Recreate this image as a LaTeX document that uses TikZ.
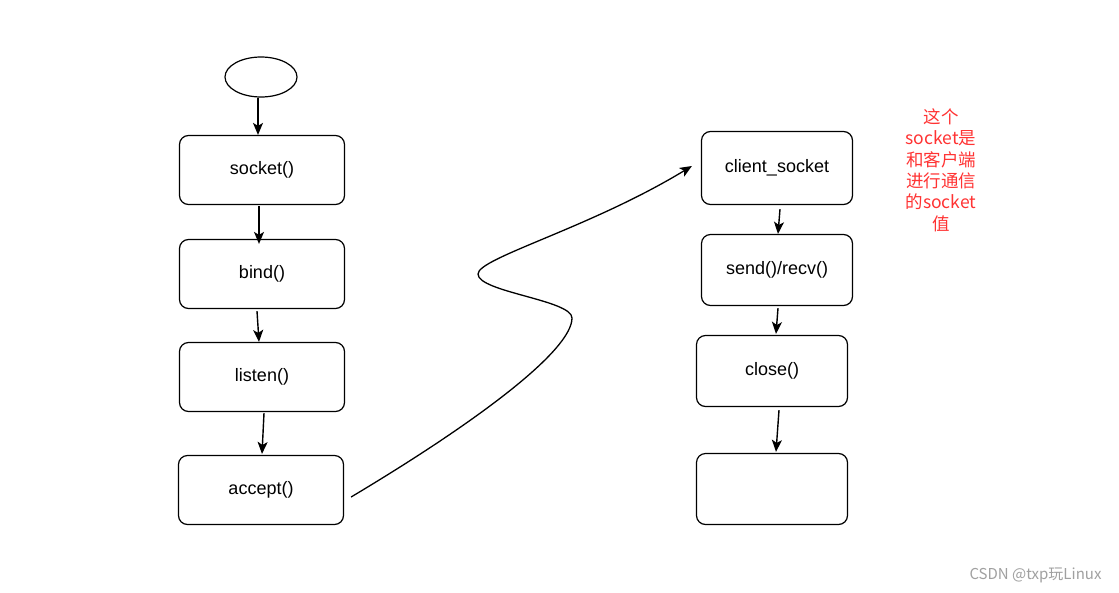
\documentclass[tikz,border=0pt]{standalone}
\usepackage{fontspec}
\setmainfont{Liberation Sans}
\newfontfamily\cjk{Noto Sans CJK SC}
\usetikzlibrary{arrows.meta,shapes.geometric,calc}
\definecolor{redtxt}{RGB}{255,51,51}
\definecolor{wm}{RGB}{160,160,160}
\tikzset{
  box/.style={draw, rounded corners=9pt, line width=1.2pt, minimum width=165pt, minimum height=69pt, inner sep=0pt, font=\fontsize{18}{21}\selectfont},
  rbox/.style={box, minimum width=151pt, minimum height=71pt},
  arr/.style={line width=1.4pt, -{Stealth[length=12pt,width=10pt,inset=3pt]}},
}
\begin{document}
\begin{tikzpicture}[x=1pt,y=-1pt]
\useasboundingbox[fill=white] (0,0) rectangle (1119,592);
\node[draw, ellipse, line width=1.2pt, minimum width=72pt, minimum height=40pt, inner sep=0pt] (ell) at (261,77) {};
\node[box] (sock) at (262,170) {socket()};
\node[box] (bind) at (262,274) {bind()};
\node[box] (lis) at (262,377) {listen()};
\node[box] (acc) at (261,490) {accept()};
\node[rbox, minimum height=73pt] (cs) at (777,168) {client\_socket};
\node[rbox] (sr) at (777,270) {send()/recv()};
\node[rbox] (cl) at (772,371) {close()};
\node[rbox] (emp) at (772,489) {};
\node[text=redtxt, align=center, font=\cjk\fontsize{17.5}{21.4}\selectfont] (note) at (941,170) {这个\\socket是\\和客户端\\进行通信\\的socket\\值};
\node[text=wm, anchor=east, font=\cjk\fontsize{15}{17}\selectfont] (wmk) at (1105,575) {CSDN @txp玩Linux};

\draw[arr] ([xshift=-3pt]ell.south) -- ([xshift=-4pt]sock.north);
\draw[arr] ([xshift=-3pt,yshift=-1pt]sock.south) -- ([xshift=-3pt,yshift=-5pt]bind.north);
\draw[arr] ([xshift=-5pt,yshift=-2pt]bind.south) -- ([xshift=-3pt]lis.north);
\draw[arr] ([xshift=2pt,yshift=-1pt]lis.south) -- ([xshift=1pt,yshift=1pt]acc.north);
\draw[arr] ([xshift=3pt,yshift=-4pt]cs.south) -- ([xshift=1pt]sr.north);
\draw[arr] ([xshift=1pt,yshift=-2pt]sr.south) -- ([xshift=4pt,yshift=1pt]cl.north);
\draw[arr] ([xshift=7pt,yshift=-3pt]cl.south) -- ([xshift=4pt,yshift=1pt]emp.north);

\draw[line width=1.3pt, -{Stealth[length=12pt,width=10pt,inset=3pt]}]
  ([shift={(7pt,-7pt)}]acc.east) .. controls (480,420) and (572,350) .. (572,318)
  .. controls (572,300) and (478,292) .. (478,274)
  .. controls (478,258) and (590,228) .. ([shift={(-9pt,2pt)}]cs.west);
\end{tikzpicture}
\end{document}
